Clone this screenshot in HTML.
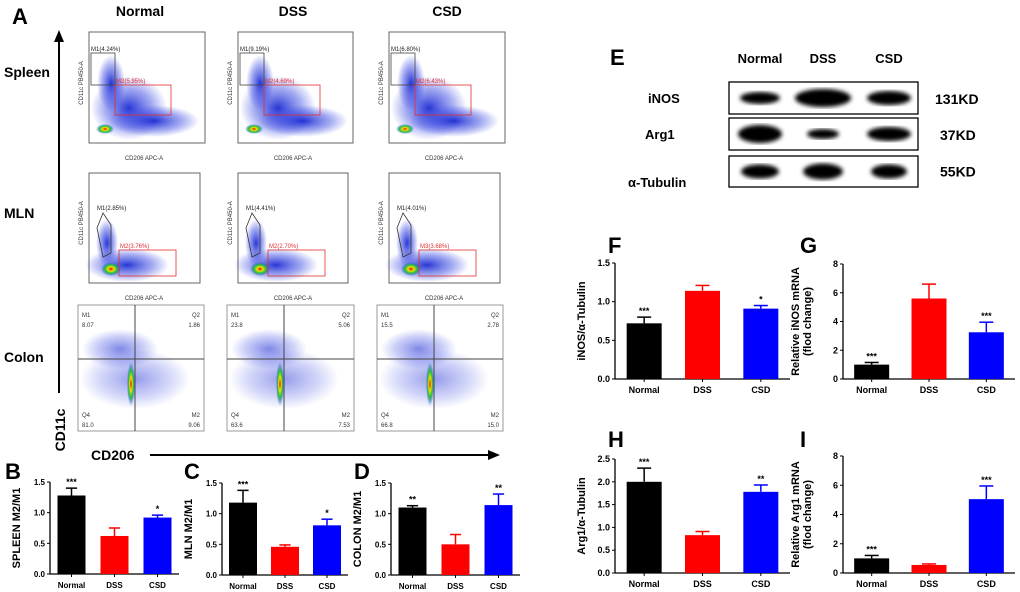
<!DOCTYPE html>
<html><head><meta charset="utf-8"><style>
body{margin:0;background:#fff;}
svg{display:block;font-family:"Liberation Sans",sans-serif;}
</style></head><body>
<svg id="fig" width="1020" height="592" viewBox="0 0 1020 592" xmlns="http://www.w3.org/2000/svg">
<defs>
<filter id="blur2"><feGaussianBlur stdDeviation="2"/></filter>
<radialGradient id="cloud"><stop offset="0" stop-color="#1020d0" stop-opacity="0.9"/><stop offset="0.6" stop-color="#3040e0" stop-opacity="0.45"/><stop offset="1" stop-color="#3040e0" stop-opacity="0"/></radialGradient>
<radialGradient id="hot"><stop offset="0" stop-color="#e00000"/><stop offset="0.3" stop-color="#f0e000"/><stop offset="0.6" stop-color="#20c040"/><stop offset="1" stop-color="#2040e0" stop-opacity="0"/></radialGradient>
</defs>
<g id="flow"></g>
<g id="blot"></g>
<g id="charts"></g>
</svg>
<script>
const groups = ["Normal","DSS","CSD"];
const colors = ["#000000","#ff0000","#0000ff"];
const valsB = [1.28,0.62,0.92], errB = [0.12,0.13,0.04], sigB = ["***","","*"];
const valsC = [1.18,0.46,0.81], errC = [0.20,0.03,0.10], sigC = ["***","","*"];
const valsD = [1.10,0.50,1.14], errD = [0.03,0.16,0.18], sigD = ["**","","**"];
const valsF = [0.72,1.14,0.91], errF = [0.08,0.07,0.04], sigF = ["***","","*"];
const valsG = [1.0,5.6,3.25], errG = [0.15,1.0,0.7], sigG = ["***","","***"];
const valsH = [2.0,0.83,1.78], errH = [0.3,0.08,0.15], sigH = ["***","","**"];
const valsI = [1.0,0.55,5.05], errI = [0.2,0.07,0.9], sigI = ["***","","***"];
const ticks15 = ["0.0","0.5","1.0","1.5"];
const ticks25 = ["0.0","0.5","1.0","1.5","2.0","2.5"];
const ticks8 = ["0","2","4","6","8"];

const NS="http://www.w3.org/2000/svg";
function mk(parent,tag,attrs,text){const e=document.createElementNS(NS,tag);for(const k in attrs)e.setAttribute(k,attrs[k]);if(text!==undefined)e.textContent=text;parent.appendChild(e);return e;}

const charts=document.getElementById('charts');
function barChart(name,letter,lx,ly,x0,x1,yTop,y0,ticks,vals,errs,sigs,ylabels,barW,fs){
  const g=mk(charts,'g',{});
  
  
  const maxV=parseFloat(ticks[ticks.length-1]);
  const ys=v=>y0-(v/maxV)*(y0-yTop);
  const L=mk(g,'text',{x:lx,y:ly,'font-size':22,'font-weight':'bold'},letter);
  
  
  mk(g,'line',{x1:x0,y1:yTop,x2:x0,y2:y0,stroke:'#000','stroke-width':1.3});
  mk(g,'line',{x1:x0,y1:y0,x2:x1,y2:y0,stroke:'#000','stroke-width':1.3});
  ticks.forEach(t=>{const y=ys(parseFloat(t));
    mk(g,'line',{x1:x0-3,y1:y,x2:x0,y2:y,stroke:'#000','stroke-width':1});
    const tl=mk(g,'text',{x:x0-5,y:y+3,'font-size':fs,'font-weight':'bold','text-anchor':'end'},t);
    
    
  });
  const step=(x1-x0)/3;
  vals.forEach((v,i)=>{
    const cx=x0+step*(i+0.5);
    const b=mk(g,'rect',{x:cx-barW/2,y:ys(v),width:barW,height:y0-ys(v),fill:colors[i]});
    
    
    const ye=ys(v+errs[i]);
    mk(g,'line',{x1:cx,y1:ys(v),x2:cx,y2:ye,stroke:colors[i],'stroke-width':1.5});
    mk(g,'line',{x1:cx-barW*0.2,y1:ye,x2:cx+barW*0.2,y2:ye,stroke:colors[i],'stroke-width':1.5});
    mk(g,'line',{x1:cx,y1:y0,x2:cx,y2:y0+3,stroke:'#000','stroke-width':1});
    if(sigs[i]){const s=mk(g,'text',{x:cx,y:ye-3,'font-size':9,'font-weight':'bold','text-anchor':'middle'},sigs[i]);
      
      }
    const xl=mk(g,'text',{x:cx,y:y0+14,'font-size':fs,'font-weight':'bold','text-anchor':'middle'},groups[i]);
    
    
  });
  const ym=(yTop+y0)/2;
  ylabels.forEach((t,j)=>{
    const xx=x0-(ylabels.length===2?44:30)+j*12;
    const yl=mk(g,'text',{x:xx,y:ym,'font-size':11,'font-weight':'bold','text-anchor':'middle',transform:`rotate(-90 ${xx} ${ym})`},t);
    
    
  });
}
barChart('chart-spleen','B',5,479,50,179,482,574,ticks15,valsB,errB,sigB,["SPLEEN M2/M1"],28,8);
barChart('chart-mln','C',184,479,222,348,483,575,ticks15,valsC,errC,sigC,["MLN M2/M1"],28,8);
barChart('chart-colon','D',354,479,391,520,483,575,ticks15,valsD,errD,sigD,["COLON M2/M1"],28,8);
barChart('chart-inos-protein','F',608,253,615,790,263,379,ticks15,valsF,errF,sigF,["iNOS/α-Tubulin"],35,9);
barChart('chart-inos-mrna','G',800,253,843,1015,264,379,ticks8,valsG,errG,sigG,["Relative iNOS mRNA","(flod change)"],35,9);
barChart('chart-arg1-protein','H',608,447,615,790,459,573,ticks25,valsH,errH,sigH,["Arg1/α-Tubulin"],35,9);
barChart('chart-arg1-mrna','I',800,447,843,1015,456,573,ticks8,valsI,errI,sigI,["Relative Arg1 mRNA","(flod change)"],35,9);

// Western blot
const blot=document.getElementById('blot');
const bandX=[760,823,889];
const blotRows=[{n:'iNOS',y0:82,y1:114,lab:'iNOS',lx:648,kd:'131KD',w:[20,28,22],h:[6,9,7]},
 {n:'arg1',y0:118,y1:150,lab:'Arg1',lx:645,kd:'37KD',w:[22,16,22],h:[9,5,7]},
 {n:'tubulin',y0:156,y1:187,lab:'α-Tubulin',lx:628,kd:'55KD',w:[19,20,18],h:[7,8,7]}];
const E=mk(blot,'text',{x:610,y:65,'font-size':22,'font-weight':'bold'},'E');


groups.forEach((gname,i)=>{const t=mk(blot,'text',{x:bandX[i],y:63,'font-size':13,'font-weight':'bold','text-anchor':'middle'},gname);
 
 });
blotRows.forEach((r,k)=>{
 const bx=mk(blot,'rect',{x:729,y:r.y0,width:189,height:r.y1-r.y0,fill:'#fff',stroke:'#000','stroke-width':1.3});
 
 
 const cy=(r.y0+r.y1)/2;
 bandX.forEach((x,i)=>mk(blot,'ellipse',{cx:x,cy:cy,rx:r.w[i],ry:r.h[i],fill:'#000',filter:'url(#blur2)'}));
 const ly=k===2?187:cy+5;
 const l=mk(blot,'text',{x:r.lx,y:ly,'font-size':13,'font-weight':'bold'},r.lab);
 
 
 const kd=mk(blot,'text',{x:935+(k?5:0),y:k===2?cy+5:cy+6,'font-size':14,'font-weight':'bold'},r.kd);
 
 
});

// Flow cytometry
const flow=document.getElementById('flow');
const A=mk(flow,'text',{x:12,y:24,'font-size':22,'font-weight':'bold'},'A');


const colX=[[89,205],[238,353],[389,505]];
const colHead=[140,293,447];
groups.forEach((gname,i)=>{const t=mk(flow,'text',{x:colHead[i],y:16,'font-size':14,'font-weight':'bold','text-anchor':'middle'},gname);
 
 });
[['Spleen',77],['MLN',218],['Colon',362]].forEach(([t,y])=>{const e=mk(flow,'text',{x:4,y:y,'font-size':14,'font-weight':'bold'},t);
 
 });
mk(flow,'line',{x1:59,y1:40,x2:59,y2:393,stroke:'#000','stroke-width':2});
mk(flow,'polygon',{points:'54,42 59,30 64,42',fill:'#000'});
mk(flow,'line',{x1:150,y1:455,x2:490,y2:455,stroke:'#000','stroke-width':2});
mk(flow,'polygon',{points:'488,450 500,455 488,460',fill:'#000'});
const cd11=mk(flow,'text',{x:65,y:430,'font-size':14,'font-weight':'bold','text-anchor':'middle',transform:'rotate(-90 65 430)'},'CD11c');


const cd206=mk(flow,'text',{x:91,y:460,'font-size':14,'font-weight':'bold'},'CD206');



const m1Spl=["M1(4.24%)","M1(9.19%)","M1(6.80%)"], m2Spl=["M2(5.95%)","M2(4.69%)","M2(6.43%)"];
const m1Mln=["M1(2.85%)","M1(4.41%)","M1(4.01%)"], m2Mln=["M2(3.76%)","M2(2.70%)","M3(3.68%)"];
const qCol=[["8.07","1.86","81.0","9.06"],["23.8","5.06","63.6","7.53"],["15.5","2.78","66.8","15.0"]];
function small(g,x,y,t,fill,anchor,rot){const a={x:x,y:y,'font-size':6,fill:fill||'#333'};if(anchor)a['text-anchor']=anchor;if(rot)a.transform=`rotate(-90 ${x} ${y})`;return mk(g,'text',a,t);}
colX.forEach(([x0,x1],i)=>{
 let g=mk(flow,'g',{});
 
 
 let y0=32,y1=143;
 mk(g,'rect',{x:x0,y:y0,width:x1-x0,height:y1-y0,fill:'#fff',stroke:'#666'});
 mk(g,'ellipse',{cx:x0+40,cy:y1-35,rx:38,ry:32,fill:'url(#cloud)'});
 mk(g,'ellipse',{cx:x0+65,cy:y1-22,rx:45,ry:16,fill:'url(#cloud)'});
 mk(g,'ellipse',{cx:x0+22,cy:y1-60,rx:14,ry:28,fill:'url(#cloud)'});
 mk(g,'ellipse',{cx:x0+16,cy:y1-14,rx:9,ry:5,fill:'url(#hot)'});
 mk(g,'rect',{x:x0+2,y:y1-90,width:24,height:32,fill:'none',stroke:'#444','stroke-width':0.8});
 mk(g,'rect',{x:x0+26,y:y1-58,width:56,height:30,fill:'none',stroke:'#e03030','stroke-width':0.8});
 small(g,x0+2,y1-92,m1Spl[i],'#222');
 small(g,x0+27,y1-60,m2Spl[i],'#e03030');
 small(g,x0-6,y1-60,'CD11c PB450-A','#333','middle',true);
 small(g,x0+55,y1+17,'CD206 APC-A','#333','middle');
 g=mk(flow,'g',{});
 
 
 y0=173;y1=283;const xr=x1-5;
 mk(g,'rect',{x:x0,y:y0,width:xr-x0,height:y1-y0,fill:'#fff',stroke:'#666'});
 mk(g,'ellipse',{cx:x0+38,cy:y1-18,rx:42,ry:17,fill:'url(#cloud)'});
 mk(g,'ellipse',{cx:x0+18,cy:y1-40,rx:11,ry:24,fill:'url(#cloud)'});
 mk(g,'ellipse',{cx:x0+22,cy:y1-14,rx:10,ry:7,fill:'url(#hot)'});
 mk(g,'polygon',{points:`${x0+14},${y1-26} ${x0+8},${y1-55} ${x0+14},${y1-70} ${x0+22},${y1-58} ${x0+22},${y1-30}`,fill:'none',stroke:'#333','stroke-width':0.8});
 mk(g,'rect',{x:x0+30,y:y1-33,width:57,height:26,fill:'none',stroke:'#e03030','stroke-width':0.8});
 small(g,x0+8,y1-73,m1Mln[i],'#222');
 small(g,x0+31,y1-35,m2Mln[i],'#e03030');
 small(g,x0-6,y1-60,'CD11c PB450-A','#333','middle',true);
 small(g,x0+55,y1+17,'CD206 APC-A','#333','middle');
 g=mk(flow,'g',{});
 
 
 const cx0=i===0?78:(i===1?227:377), cx1=i===0?204:(i===1?354:503);
 y0=305;y1=431;const qx=cx0+57,qy=y0+54;
 mk(g,'rect',{x:cx0,y:y0,width:cx1-cx0,height:y1-y0,fill:'#fff',stroke:'#999'});
 mk(g,'ellipse',{cx:qx-15,cy:qy-10,rx:38,ry:20,fill:'url(#cloud)',opacity:0.6});
 mk(g,'ellipse',{cx:qx,cy:qy+20,rx:55,ry:30,fill:'url(#cloud)',opacity:0.5});
 mk(g,'ellipse',{cx:qx-4,cy:qy+25,rx:4,ry:22,fill:'url(#hot)'});
 mk(g,'line',{x1:qx,y1:y0,x2:qx,y2:y1,stroke:'#444','stroke-width':1});
 mk(g,'line',{x1:cx0,y1:qy,x2:cx1,y2:qy,stroke:'#444','stroke-width':1});
 small(g,cx0+4,y0+12,'M1');small(g,cx0+4,y0+22,qCol[i][0]);
 small(g,cx1-4,y0+12,'Q2','#333','end');small(g,cx1-4,y0+22,qCol[i][1],'#333','end');
 small(g,cx0+4,y1-14,'Q4');small(g,cx0+4,y1-4,qCol[i][2]);
 small(g,cx1-4,y1-14,'M2','#333','end');small(g,cx1-4,y1-4,qCol[i][3],'#333','end');
});
</script>
</body></html>
